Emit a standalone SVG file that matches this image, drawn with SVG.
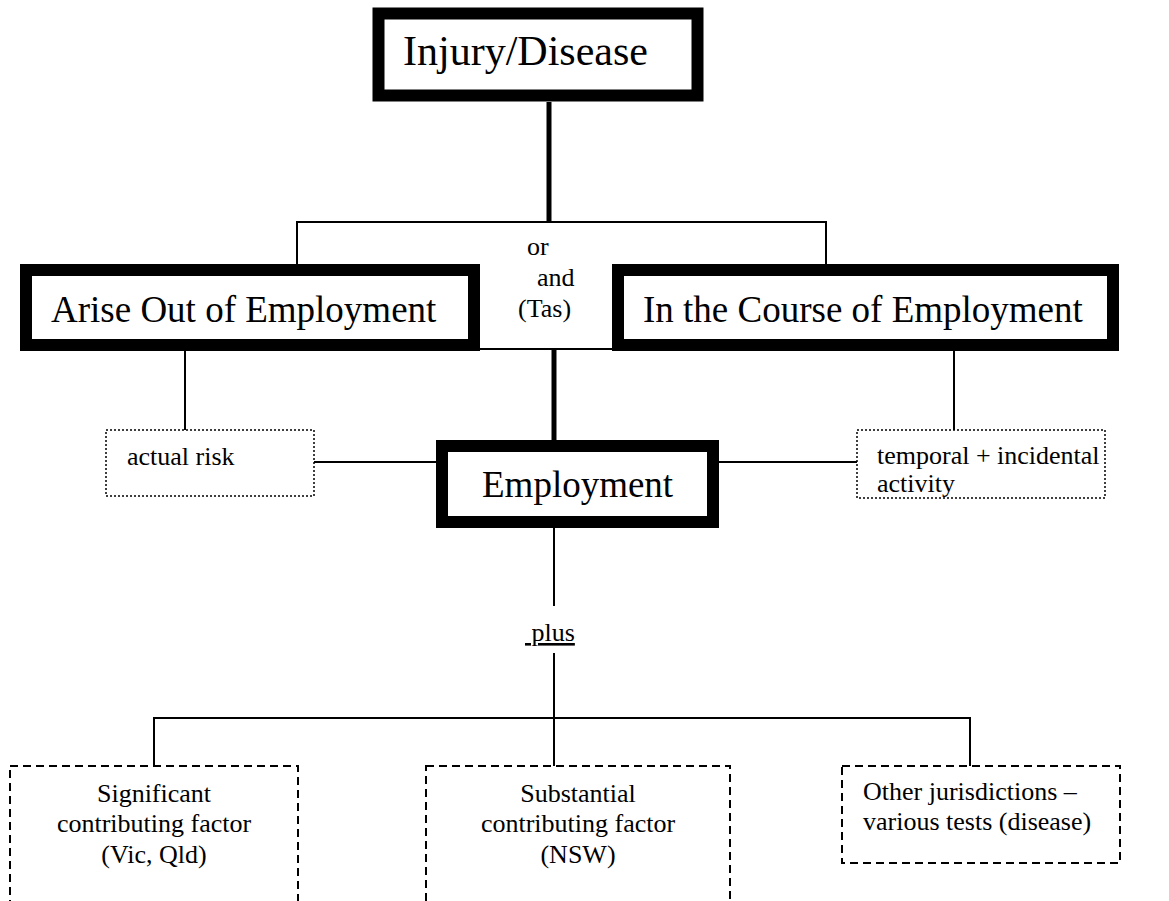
<svg xmlns="http://www.w3.org/2000/svg" width="1169" height="901" viewBox="0 0 1169 901">
<style>
  .thick { fill: #fff; stroke: #000; stroke-width: 12; }
  .dotted { fill: #fff; stroke: #000; stroke-width: 1.5; stroke-dasharray: 2 2; }
  .dashed { fill: #fff; stroke: #000; stroke-width: 2; stroke-dasharray: 8 5; }
  .big { font-family: "Liberation Serif", "Times New Roman", serif; font-size: 37px; fill: #000; }
  .small { font-family: "Liberation Serif", "Times New Roman", serif; font-size: 26px; fill: #000; }
  .thin { stroke: #000; stroke-width: 2; fill: none; }
  .heavy { stroke: #000; stroke-width: 5; fill: none; }
</style>
<rect width="1169" height="901" fill="#fff"/>
<g id="connectors">
  <line class="heavy" x1="549" y1="102" x2="549" y2="222"/>
  <polyline class="thin" points="297,264 297,222 826,222 826,264"/>
  <line class="thin" x1="480" y1="349" x2="612" y2="349"/>
  <line class="heavy" x1="554" y1="349" x2="554" y2="440"/>
  <line class="thin" x1="185" y1="351" x2="185" y2="430"/>
  <line class="thin" x1="954" y1="351" x2="954" y2="430"/>
  <line class="thin" x1="314" y1="462" x2="436" y2="462"/>
  <line class="thin" x1="719" y1="462" x2="857" y2="462"/>
  <line class="thin" x1="554" y1="528" x2="554" y2="606"/>
  <line class="thin" x1="554" y1="653" x2="554" y2="766"/>
  <polyline class="thin" points="154,766 154,718 970,718 970,766"/>
</g>
<g id="injury">
  <rect class="thick" x="378.5" y="13.5" width="319" height="82" stroke-width="13"/>
  <text class="big" x="403" y="65" style="font-size:42px">Injury/Disease</text>
</g>
<g id="arise">
  <rect class="thick" x="26" y="270" width="448" height="75"/>
  <text class="big" x="51" y="322">Arise Out of Employment</text>
</g>
<g id="course">
  <rect class="thick" x="618" y="270" width="495" height="75"/>
  <text class="big" x="643" y="322">In the Course of Employment</text>
</g>
<g id="or-and">
  <text class="small" x="527" y="255">or</text>
  <text class="small" x="537" y="286">and</text>
  <text class="small" x="518" y="317">(Tas)</text>
</g>
<g id="actual-risk">
  <rect class="dotted" x="106" y="430" width="208" height="66"/>
  <text class="small" x="127" y="465">actual risk</text>
</g>
<g id="employment">
  <rect class="thick" x="442" y="446" width="271" height="76"/>
  <text class="big" x="482" y="497">Employment</text>
</g>
<g id="temporal">
  <rect class="dotted" x="857" y="430" width="248" height="68"/>
  <text class="small" x="877" y="464">temporal + incidental</text>
  <text class="small" x="877" y="492">activity</text>
</g>
<g id="plus">
  <text class="small" x="525" y="641" xml:space="preserve" text-decoration="underline"> plus</text>
</g>
<g id="significant">
  <rect class="dashed" x="10" y="766" width="288" height="160"/>
  <text class="small" text-anchor="middle" x="154" y="802">Significant</text>
  <text class="small" text-anchor="middle" x="154" y="832">contributing factor</text>
  <text class="small" text-anchor="middle" x="154" y="863">(Vic, Qld)</text>
</g>
<g id="substantial">
  <rect class="dashed" x="426" y="766" width="304" height="160"/>
  <text class="small" text-anchor="middle" x="578" y="802">Substantial</text>
  <text class="small" text-anchor="middle" x="578" y="832">contributing factor</text>
  <text class="small" text-anchor="middle" x="578" y="863">(NSW)</text>
</g>
<g id="other">
  <rect class="dashed" x="842" y="766" width="278" height="97"/>
  <text class="small" x="863" y="800">Other jurisdictions –</text>
  <text class="small" x="863" y="830">various tests (disease)</text>
</g>
</svg>
